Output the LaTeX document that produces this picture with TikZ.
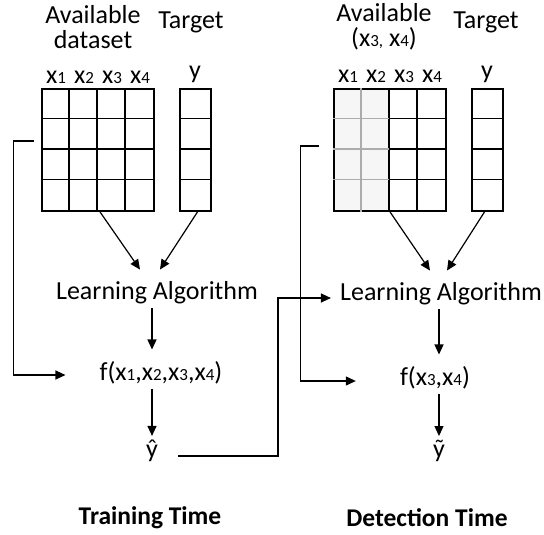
\documentclass[tikz,border=0pt]{standalone}
\usepackage{fontspec}
\setmainfont{Carlito}
\usetikzlibrary{arrows.meta,positioning,backgrounds}

% x with a small index digit
\newcommand{\xsub}[1]{x{\fontsize{17}{17}\selectfont #1}}

\begin{document}
\begin{tikzpicture}[
  x=1pt, y=-1pt,
  txt/.style={font=\fontsize{26}{23}\selectfont, inner sep=4pt, align=center},
  ttl/.style={font=\fontsize{25.5}{23}\selectfont\bfseries, inner sep=2pt},
  grid/.style={draw, line width=1.8pt, inner sep=0pt, minimum width=112pt, minimum height=122pt},
  col/.style={draw, line width=1.8pt, inner sep=0pt, minimum width=31pt, minimum height=122pt},
  cell/.style={line width=1.6pt},
  ghost/.style={line width=1.6pt, draw=gray!65},
  arr/.style={-{Triangle[length=10pt,width=9pt]}, line width=1.2pt},
]
\useasboundingbox (0,0) rectangle (544,535);

%% ── TRAINING: data and target ───────────────────────────────────────────────
\node[txt, font=\fontsize{26}{24.5}\selectfont] (availL) at (93,27) {Available\\dataset};
\node[txt] (tnameL) at (191,22) {Target};
\foreach \n in {1,2,3,4}
  \node[txt] (cL\n) at (28+28*\n,77) {\xsub{\n}};
\node[txt] (yL) at (195,74) {y};

\node[grid] (dataL) at (98,150) {};
\node[col]  (tgtL)  at (195.5,150) {};
\foreach \i in {1,2,3} {
  \draw[cell] ([xshift=\i*28pt]dataL.north west) -- ([xshift=\i*28pt]dataL.south west);
  \draw[cell] ([yshift=-\i*30.5pt]dataL.north west) -- ([yshift=-\i*30.5pt]dataL.north east);
  \draw[cell] ([yshift=-\i*30.5pt]tgtL.north west) -- ([yshift=-\i*30.5pt]tgtL.north east);
}

\node[txt] (algL)  at (157,293) {Learning Algorithm};
\node[txt] (fL)    at (161,373) {f(\xsub{1},\xsub{2},\xsub{3},\xsub{4})};
\node[txt] (yhatL) at (152,451) {ŷ};

%% ── DETECTION: data and target ──────────────────────────────────────────────
\node[txt, font=\fontsize{26}{25}\selectfont] (availR) at (384,27)
  {Available\\(\xsub{3}{\fontsize{17}{17}\selectfont,} \xsub{4})};
\node[txt] (tnameR) at (486,22) {Target};
\foreach \n in {1,2,3,4}
  \node[txt] (cR\n) at (320+28*\n,76) {\xsub{\n}};
\node[txt] (yR) at (487,74) {y};

\node[grid] (dataR) at (390,150) {};
\node[col]  (tgtR)  at (487.5,150) {};
\begin{scope}[on background layer]
  \fill[gray!7] (dataR.north west) rectangle ([xshift=56pt]dataR.south west);
\end{scope}
\draw[ghost] ([xshift=28pt]dataR.north west) -- ([xshift=28pt]dataR.south west);
\foreach \i in {2,3}
  \draw[cell] ([xshift=\i*28pt]dataR.north west) -- ([xshift=\i*28pt]dataR.south west);
\foreach \i in {1,2,3} {
  \draw[ghost] ([yshift=-\i*30.5pt]dataR.north west) -- ([xshift=56pt,yshift=-\i*30.5pt]dataR.north west);
  \draw[cell] ([xshift=56pt,yshift=-\i*30.5pt]dataR.north west) -- ([yshift=-\i*30.5pt]dataR.north east);
  \draw[cell] ([yshift=-\i*30.5pt]tgtR.north west) -- ([yshift=-\i*30.5pt]tgtR.north east);
}

\node[txt] (algR)  at (441,294) {Learning Algorithm};
\node[txt] (fR)    at (435,378) {f(\xsub{3},\xsub{4})};
\node[txt] (ytilR) at (439,451) {ỹ};

%% ── TITLES ──────────────────────────────────────────────────────────────────
\node[ttl] (ttrain) at (150,518) {Training Time};
\node[ttl] (tdetect) at (427,518) {Detection Time};

%% ── ARROWS ──────────────────────────────────────────────────────────────────
\draw[arr] ([xshift=2pt]dataL.south) -- ([xshift=-17pt,yshift=8pt]algL.north);
\draw[arr] ([xshift=2pt]tgtL.south) -- ([xshift=3pt,yshift=8pt]algL.north);
\draw[arr] (algL.south -| yhatL) -- ([yshift=8pt]fL.north -| yhatL);
\draw[arr] (fL.south -| yhatL) -- (yhatL);

\draw[arr] (dataR.south) -- ([xshift=-11pt,yshift=8pt]algR.north);
\draw[arr] ([xshift=-3pt]tgtR.south) -- ([xshift=6pt,yshift=8pt]algR.north);
\draw[arr] (algR.south -| ytilR) -- ([yshift=8pt]fR.north -| ytilR);
\draw[arr] (fR.south -| ytilR) -- (ytilR);

%% ── FEATURE LINKS ───────────────────────────────────────────────────────────
\draw[arr] ([xshift=-7pt,yshift=9pt]dataL.west) -| ([xshift=-82pt,yshift=-2pt]fL.west)
  -- ([xshift=-30pt,yshift=-2pt]fL.west);
\draw[arr] ([xshift=-14pt,yshift=4pt]dataR.west) -| ([xshift=-95pt,yshift=-3pt]fR.west)
  -- ([xshift=-40pt,yshift=-3pt]fR.west);
\draw[arr] ([xshift=16pt,yshift=-5pt]yhatL.east) -| ([xshift=-58pt,yshift=-4pt]algR.west)
  -- ([xshift=-5pt,yshift=-4pt]algR.west);
\end{tikzpicture}
\end{document}
